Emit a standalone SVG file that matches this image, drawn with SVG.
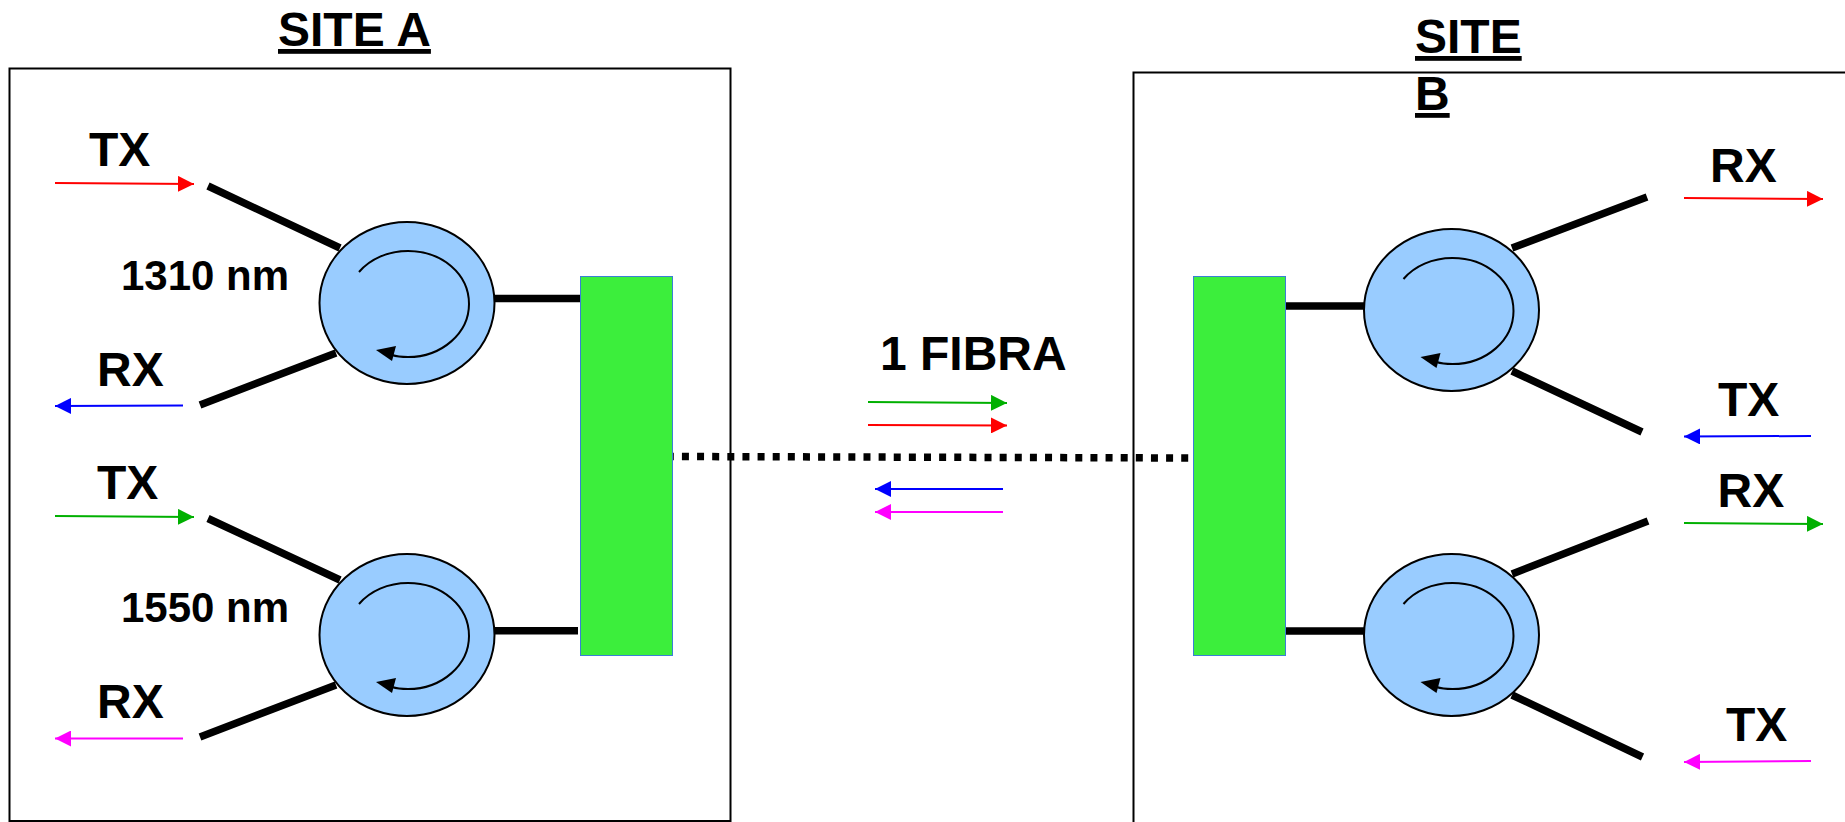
<svg xmlns="http://www.w3.org/2000/svg" width="1845" height="822" viewBox="0 0 1845 822">
<style>
text{font-family:"Liberation Sans",Arial,sans-serif;font-weight:700;fill:#000;font-size:48px}
.nm{font-size:42px}
.u{text-decoration:underline}
.box{fill:none;stroke:#000;stroke-width:2}
.mux{fill:#3cee3c;stroke:#3a7fd5;stroke-width:1}
.fib{stroke:#000;stroke-width:7.500;fill:none}
.dot{stroke:#000;stroke-width:7.500;fill:none;stroke-dasharray:7 8.130}
.body{fill:#99ccff;stroke:#000;stroke-width:2}
.spin{fill:none;stroke:#000;stroke-width:2}
.s{stroke-width:2;fill:none}
</style>
<defs>
<marker id="mr" markerUnits="userSpaceOnUse" markerWidth="16" markerHeight="16" refX="16" refY="8" orient="auto"><path d="M0 0L16 8L0 16Z" fill="#ff0000"/></marker>
<marker id="mg" markerUnits="userSpaceOnUse" markerWidth="16" markerHeight="16" refX="16" refY="8" orient="auto"><path d="M0 0L16 8L0 16Z" fill="#00b000"/></marker>
<marker id="mb" markerUnits="userSpaceOnUse" markerWidth="16" markerHeight="16" refX="16" refY="8" orient="auto"><path d="M0 0L16 8L0 16Z" fill="#0000ff"/></marker>
<marker id="mm" markerUnits="userSpaceOnUse" markerWidth="16" markerHeight="16" refX="16" refY="8" orient="auto"><path d="M0 0L16 8L0 16Z" fill="#ff00ff"/></marker>
<g id="circ">
<ellipse class="body" cx="0" cy="0" rx="87.500" ry="81"/>
<path class="spin" d="M-48 -31C-37 -44 -19 -52 1 -52C35 -52 62 -29 62 1C62 30 35 54 1 54C-4 54 -9 54 -15 52"/>
<path d="M-31 47L-11 43L-15 58Z"/>
</g>
</defs>
<g id="site-a">
<rect class="box" x="9.500" y="68.500" width="721" height="752.500"/>
<text class="u" x="278" y="46">SITE A</text>
</g>
<g id="site-b">
<rect class="box" x="1133.500" y="72.500" width="760" height="780"/>
<text class="u" x="1415" y="53">SITE</text>
<text class="u" x="1415" y="110">B</text>
</g>
<g id="connectors">
<path class="fib" d="M208 186L340 248M200 405L336 353M494 298.500H580"/>
<path class="fib" d="M208 518.500L340 580M200 737L336 685M494 630.700H578"/>
<path class="fib" d="M1647 197L1512 248M1642 432L1512 371M1285 306H1364"/>
<path class="fib" d="M1648 521L1512 574M1642.500 757L1512 695M1285 631H1364"/>
<path class="dot" stroke-dashoffset="6.200" d="M673 456.500L1193 458"/>
<path class="s" stroke="#ff0000" marker-end="url(#mr)" d="M55 183L194 184"/>
<path class="s" stroke="#0000ff" marker-end="url(#mb)" d="M183 405.500L55 406"/>
<path class="s" stroke="#00b000" marker-end="url(#mg)" d="M55 516L194 517"/>
<path class="s" stroke="#ff00ff" marker-end="url(#mm)" d="M183 738.500L55 738.500"/>
<path class="s" stroke="#00b000" marker-end="url(#mg)" d="M868 402L1007 403"/>
<path class="s" stroke="#ff0000" marker-end="url(#mr)" d="M868 425L1007 425.500"/>
<path class="s" stroke="#0000ff" marker-end="url(#mb)" d="M1003 489L875 489"/>
<path class="s" stroke="#ff00ff" marker-end="url(#mm)" d="M1003 512L875 512"/>
<path class="s" stroke="#ff0000" marker-end="url(#mr)" d="M1684 198L1823 199"/>
<path class="s" stroke="#0000ff" marker-end="url(#mb)" d="M1811 436L1684 436.500"/>
<path class="s" stroke="#00b000" marker-end="url(#mg)" d="M1684 523L1823 524"/>
<path class="s" stroke="#ff00ff" marker-end="url(#mm)" d="M1811 761L1684 762"/>
</g>
<g id="circulator-a1"><use href="#circ" x="407" y="303"/></g>
<g id="circulator-a2"><use href="#circ" x="407" y="635"/></g>
<g id="circulator-b1"><use href="#circ" x="1451.500" y="310"/></g>
<g id="circulator-b2"><use href="#circ" x="1451.500" y="635"/></g>
<g id="mux-a"><rect class="mux" x="580.500" y="276.500" width="92" height="379"/></g>
<g id="mux-b"><rect class="mux" x="1193.500" y="276.500" width="92" height="379"/></g>
<g id="labels">
<text x="89" y="166">TX</text>
<text x="97" y="386">RX</text>
<text class="nm" x="121" y="290">1310 nm</text>
<text x="97" y="499">TX</text>
<text x="97" y="718">RX</text>
<text class="nm" x="121" y="622">1550 nm</text>
<text x="880" y="370">1 FIBRA</text>
<text x="1710" y="182">RX</text>
<text x="1718" y="416">TX</text>
<text x="1717.500" y="507">RX</text>
<text x="1726" y="741">TX</text>
</g>
</svg>
